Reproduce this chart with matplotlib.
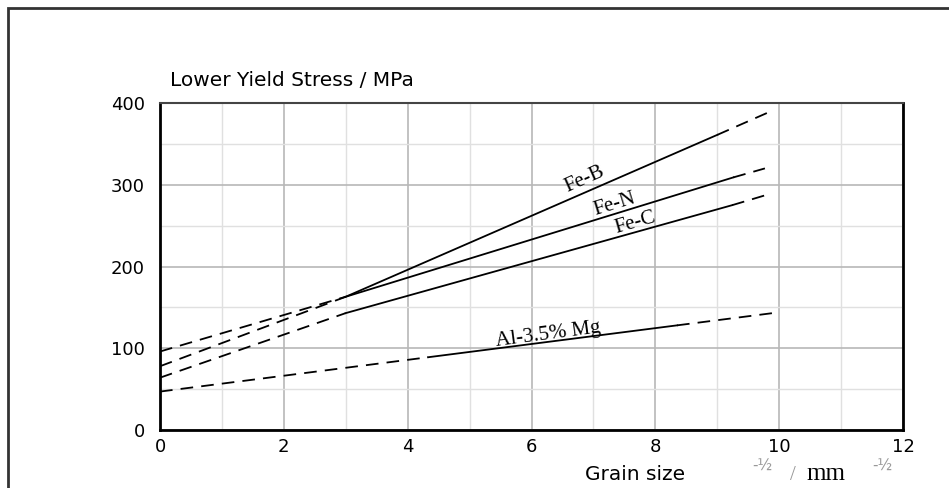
import matplotlib
matplotlib.use("Agg")
import matplotlib.pyplot as plt
from matplotlib.patches import Rectangle

fe_b_x = [0, 3.0, 9.0, 9.9]
fe_b_y = [96, 163, 361, 391]
fe_n_x = [0, 3.0, 9.26, 9.77]
fe_n_y = [78, 163, 309, 320]
fe_c_x = [0, 3.0, 9.24, 9.77]
fe_c_y = [64, 143, 275, 287]
al_mg_x = [0, 4.33, 8.35, 10.0]
al_mg_y = [47, 89, 128, 144]

labels = ["Fe-B", "Fe-N", "Fe-C", "Al-3.5% Mg"]
label_x = [6.85, 7.35, 7.67, 6.27]
label_y = [307, 276, 253, 117]
label_rot = [24, 17, 16, 7.5]

x_ticks = [0, 2, 4, 6, 8, 10, 12]
y_ticks = [0, 100, 200, 300, 400]

fig = plt.figure(figsize=(9.49, 4.88), dpi=100)
ax = fig.add_axes([160 / 949, 58 / 488, 743 / 949, 327 / 488])

# outer frame
fig.patches.append(Rectangle((8 / 949, -0.2), 1.2, 1.2 - 8 / 488, transform=fig.transFigure,
                             fill=False, lw=2, edgecolor="#333333"))

for xs, ys in [(fe_b_x, fe_b_y), (fe_n_x, fe_n_y), (fe_c_x, fe_c_y), (al_mg_x, al_mg_y)]:
    ax.plot(xs[0:2], ys[0:2], color="black", lw=1.3, dashes=(7, 4.5))
    ax.plot(xs[1:3], ys[1:3], color="black", lw=1.3)
    ax.plot(xs[2:4], ys[2:4], color="black", lw=1.3, dashes=(7, 4.5))

for t, lx, ly, r in zip(labels, label_x, label_y, label_rot):
    ax.text(lx, ly, t, rotation=r, ha="center", va="center", fontsize=15,
            family="Liberation Serif", rotation_mode="anchor")

ax.set_xlim(0, 12)
ax.set_ylim(0, 400)
ax.set_xticks(x_ticks)
ax.set_yticks(y_ticks)
ax.set_xticks(range(13), minor=True)
ax.set_yticks(range(0, 401, 50), minor=True)
ax.grid(which="major", color="#b8b8b8", lw=1.2)
ax.grid(which="minor", color="#e0e0e0", lw=1.0)
ax.set_axisbelow(True)
ax.tick_params(which="both", length=0)
ax.tick_params(axis="y", pad=11, labelsize=13)
ax.tick_params(axis="x", pad=6, labelsize=13)

for side in ["left", "bottom", "right"]:
    ax.spines[side].set_linewidth(2)
    ax.spines[side].set_color("black")
ax.spines["top"].set_linewidth(1.5)
ax.spines["top"].set_color("#444444")

# axis titles
fig.text(170 / 949, 1 - 86 / 488, "Lower Yield Stress / MPa", fontsize=14.5, va="baseline")
fig.text(585 / 949, 1 - 480 / 488, "Grain size", fontsize=14.5, va="baseline")
fig.text(752 / 949, 1 - 471 / 488, "-½", fontsize=11, color="#999999", va="baseline")
fig.text(790 / 949, 1 - 480 / 488, "/", fontsize=15, color="#999999", va="baseline",
         family="Liberation Serif")
fig.text(806 / 949, 1 - 480 / 488, "mm", fontsize=18, va="baseline", family="Liberation Serif")
fig.text(872 / 949, 1 - 471 / 488, "-½", fontsize=11, color="#999999", va="baseline")

fig.savefig("out.png", dpi=100)
